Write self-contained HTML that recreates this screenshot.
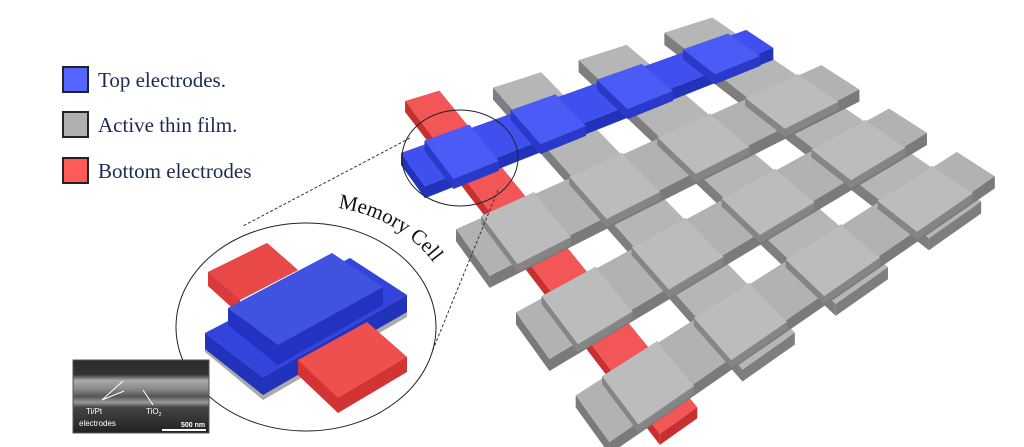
<!DOCTYPE html>
<html><head><meta charset="utf-8"><style>
html,body{margin:0;padding:0;background:#fff;width:1024px;height:447px;overflow:hidden}
svg{display:block}
.lg{font-family:"Liberation Serif",serif;font-size:21px;fill:#1c2a52}
</style></head><body>
<svg id="s" width="1024" height="447" viewBox="0 0 1024 447" xmlns="http://www.w3.org/2000/svg">
<rect x="63" y="67" width="25" height="25" fill="#5566ff" stroke="#222" stroke-width="2"/>
<rect x="63" y="112" width="25" height="25" fill="#b0b0b2" stroke="#222" stroke-width="2"/>
<rect x="63" y="158" width="25" height="25" fill="#ff5a5a" stroke="#222" stroke-width="2"/>
<text class="lg" x="98" y="87">Top electrodes.</text>
<text class="lg" x="98" y="132">Active thin film.</text>
<text class="lg" x="98" y="178">Bottom electrodes</text>
<g id="grid"></g>
<ellipse cx="460" cy="158" rx="58" ry="48" fill="none" stroke="#222" stroke-width="1"/>
<line x1="410" y1="138" x2="243" y2="226" stroke="#333" stroke-dasharray="3,2" stroke-width="1"/>
<line x1="498" y1="190" x2="432" y2="352" stroke="#333" stroke-dasharray="3,2" stroke-width="1"/>
<ellipse cx="306" cy="327" rx="130" ry="104" fill="none" stroke="#222" stroke-width="1"/>
<path id="arc" d="M 338 208 A 140 118 0 0 1 452 305" fill="none"/>
<text font-family="Liberation Serif,serif" font-size="21" fill="#111"><textPath href="#arc">Memory Cell</textPath></text>
<polygon points="208,272 267,243 298,270 240,300 240,315 208,286" fill="#d93a3a"/>
<polygon points="208,272 267,243 298,270 240,300" fill="#e84848"/>
<polygon points="205,333 350,258 407,295 263,377" fill="#c8c8c8"/>
<polygon points="205,337 205,352 263,400 407,317 407,300 263,382" fill="#aaa"/>
<polygon points="205,333 205,349 263,395 407,312 407,295 263,377" fill="#2233bb"/>
<polygon points="205,333 350,258 407,295 263,377" fill="#3344dd"/>
<polygon points="228,308 228,325 278,365 383,305 383,287 278,345" fill="#2233c4"/>
<polygon points="228,308 332,253 383,287 278,345" fill="#4052e0"/>
<polygon points="298,360 367,322 407,357 407,372 338,413 298,375" fill="#d23333"/>
<polygon points="298,360 367,322 407,357 338,398" fill="#ee5050"/>
<defs><linearGradient id="sem" x1="0" y1="0" x2="0" y2="1">
<stop offset="0" stop-color="#2a2a2a"/><stop offset="0.2" stop-color="#333"/><stop offset="0.28" stop-color="#aaa"/><stop offset="0.4" stop-color="#888"/><stop offset="0.5" stop-color="#555"/><stop offset="0.58" stop-color="#999"/><stop offset="0.65" stop-color="#444"/><stop offset="1" stop-color="#222"/></linearGradient></defs>
<rect x="73" y="360" width="136" height="73" fill="url(#sem)" stroke="#555"/>
<g stroke="#fff" stroke-width="1"><line x1="102" y1="400" x2="123" y2="381"/><line x1="102" y1="400" x2="124" y2="391"/><line x1="153" y1="405" x2="143" y2="390"/><line x1="162" y1="430" x2="206" y2="430" stroke-width="2"/></g>
<g font-family="Liberation Sans,sans-serif" fill="#fff" font-size="8"><text x="86" y="414">Ti/Pt</text><text x="79" y="426">electrodes</text><text x="146" y="414">TiO<tspan font-size="5" dy="2">2</tspan></text><text x="181" y="427" font-size="7" font-weight="bold">500 nm</text></g>
</svg>
<script>
var A=[465,150],B=[725,52],C=[648,382],D=[925,198];
function P(u,v){var t=u/3,s=v/3;var x1=A[0]+(B[0]-A[0])*t,y1=A[1]+(B[1]-A[1])*t,x2=C[0]+(D[0]-C[0])*t,y2=C[1]+(D[1]-C[1])*t;return [x1+(x2-x1)*s,y1+(y2-y1)*s];}
var g=document.getElementById('grid'),NS='http://www.w3.org/2000/svg';
function poly(pts,f){var p=document.createElementNS(NS,'polygon');p.setAttribute('points',pts.map(function(q){return q[0].toFixed(1)+','+q[1].toFixed(1)}).join(' '));p.setAttribute('fill',f);g.appendChild(p);}
function box(u0,u1,v0,v1,top,side,d){var q=[P(u0,v0),P(u1,v0),P(u1,v1),P(u0,v1)];for(var i=0;i<4;i++){var a=q[i],b=q[(i+1)%4];poly([a,b,[b[0],b[1]+d],[a[0],a[1]+d]],side);}poly(q,top);}
box(-0.2,0.2,-0.7,3.5,'#f25656','#c83030',11);
for(var c=1;c<4;c++)box(c-0.28,c+0.28,-0.55,3.45,'#b6b6b6','#7e7e7e',12);
box(-0.6,3.4,-0.2,0.2,'#3f50ee','#2233bb',12);
for(var c=0;c<4;c++)box(c-0.3,c+0.22,-0.24,0.24,'#4a5cf5','#2a3ac8',10);
for(var r=1;r<4;r++){box(-0.6,3.55,r-0.28,r+0.28,'#b2b2b2','#7a7a7a',12);
 for(var c=0;c<4;c++)box(c-0.3,c+0.3,r-0.3,r+0.3,'#bcbcbc','#858585',8);}
</script>
</body></html>
